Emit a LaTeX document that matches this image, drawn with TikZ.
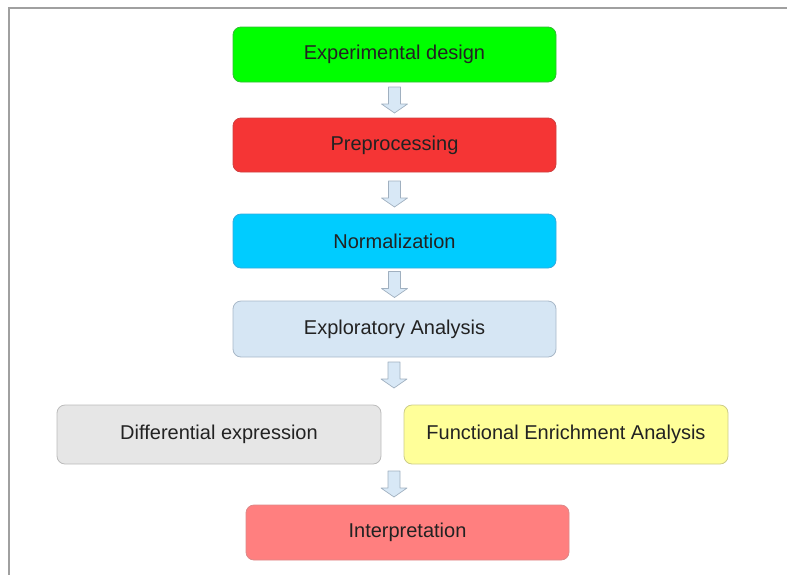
\documentclass[tikz,border=0pt]{standalone}
\usepackage{fontspec}
\setmainfont{Liberation Sans}
\usetikzlibrary{calc}
\definecolor{framecol}{HTML}{A0A0A0}
\definecolor{greenfill}{HTML}{00FF00}
\definecolor{greendraw}{HTML}{33BB33}
\definecolor{redfill}{HTML}{F53535}
\definecolor{reddraw}{HTML}{D04040}
\definecolor{cyanfill}{HTML}{00CCFF}
\definecolor{cyandraw}{HTML}{33AADD}
\definecolor{bluefill}{HTML}{D6E6F4}
\definecolor{bluedraw}{HTML}{A8B8C8}
\definecolor{grayfill}{HTML}{E6E6E6}
\definecolor{graydraw}{HTML}{BBBBBB}
\definecolor{yellowfill}{HTML}{FFFF99}
\definecolor{yellowdraw}{HTML}{CCCC88}
\definecolor{pinkfill}{HTML}{FF7F7F}
\definecolor{pinkdraw}{HTML}{DD8888}
\definecolor{arrfill}{HTML}{D8E8F6}
\definecolor{arrdraw}{HTML}{A0B0C0}
\definecolor{txt}{HTML}{222222}
\begin{document}
\begin{tikzpicture}[x=1pt,y=-1pt,
  stepbox/.style={rectangle, rounded corners=8pt, line width=0.8pt, inner sep=0pt,
    minimum width=323pt, minimum height=55pt, text=txt, font=\fontsize{20}{22}\selectfont},
  pics/blockarrow/.style={code={
    \draw[fill=arrfill, draw=arrdraw, line width=0.7pt, line join=round]
      (-6,-13) -- (6,-13) -- (6,4) -- (13,4) -- (0,13) -- (-13,4) -- (-6,4) -- cycle;}}]
\useasboundingbox (0,0) rectangle (787,574);
\draw[framecol, line width=1.8pt] (9,580) -- (9,8) -- (790,8);

\node[stepbox, fill=greenfill, draw=greendraw] (exp) at (394.5,54.5) {Experimental design};
\node[stepbox, fill=redfill, draw=reddraw, minimum height=54pt] (pre) at (394.5,145) {Preprocessing};
\node[stepbox, fill=cyanfill, draw=cyandraw, minimum height=54pt] (norm) at (394.5,241) {Normalization};
\node[stepbox, fill=bluefill, draw=bluedraw, minimum height=56pt] (expl) at (394.5,329) {Exploratory Analysis};
\node[stepbox, fill=grayfill, draw=graydraw, minimum width=324pt, minimum height=59pt] (diff) at (219,434.5) {Differential expression};
\node[stepbox, fill=yellowfill, draw=yellowdraw, minimum width=324pt, minimum height=59pt] (func) at (566,434.5) {Functional Enrichment Analysis};
\node[stepbox, fill=pinkfill, draw=pinkdraw] (interp) at (407.5,532.5) {Interpretation};

\pic at ($(exp.south)!0.5!(pre.north)$) {blockarrow};
\pic at ($(pre.south)!0.5!(norm.north)+(0,1)$) {blockarrow};
\pic at ($(norm.south)!0.5!(expl.north)$) {blockarrow};
\pic at (394,375) {blockarrow};
\pic at (394,484) {blockarrow};
\end{tikzpicture}
\end{document}
